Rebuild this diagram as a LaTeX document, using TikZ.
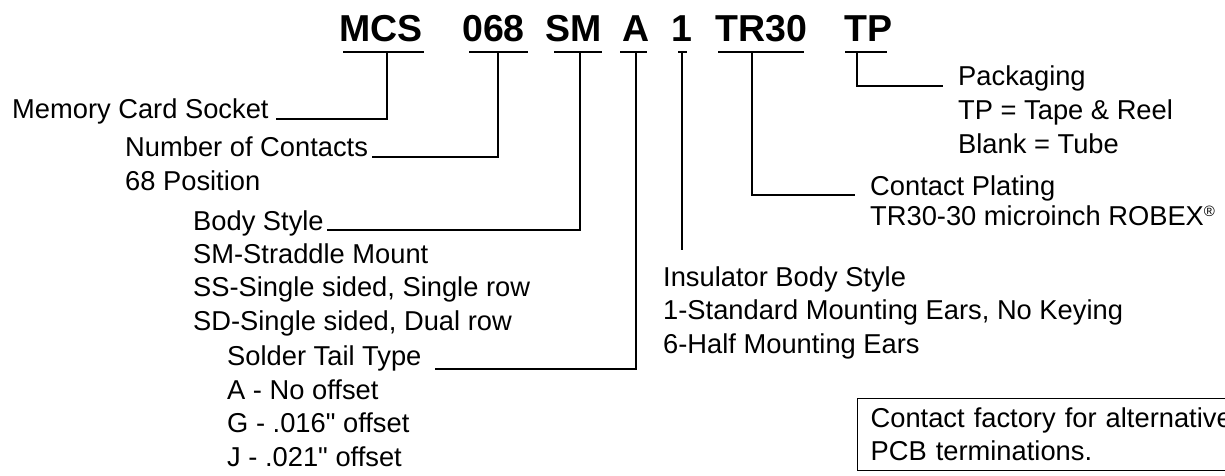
\documentclass[tikz,border=0pt]{standalone}
\usepackage{fontspec}
\setmainfont{Liberation Sans}

\begin{document}
\begin{tikzpicture}[
  x=1pt, y=-1pt, font=\fontsize{27.3}{33.5}\selectfont,
  code/.style={font=\fontsize{37.5}{40}\selectfont\bfseries, anchor=base west, inner sep=0pt},
  lbl/.style={anchor=base west, inner sep=0pt, align=left},
  note/.style={draw, line width=1.2pt, anchor=north west, align=left, text width=370pt, inner xsep=13pt, inner ysep=9pt},
  uline/.style={line width=2pt},
  lead/.style={line width=1.3pt}]
  \useasboundingbox (0,0) rectangle (1225,476);
  % part number
  \node[code] (mcs) at (339,42) {MCS};
  \node[code] (pins) at (462,42) {068};
  \node[code] (sm) at (545,42) {SM};
  \node[code] (tail) at (622,42) {A};
  \node[code] (ins1) at (671,42) {1};
  \node[code] (tr) at (715,42) {TR30};
  \node[code] (tp) at (844,42) {TP};
  \draw[uline] (343,52) -- (424,52);
  \draw[uline] (469,52) -- (528,52);
  \draw[uline] (554,52) -- (602,52);
  \draw[uline] (620,52) -- (647,52);
  \draw[uline] (678,52) -- (687,52);
  \draw[uline] (718,52) -- (804,52);
  \draw[uline] (845,52) -- (887,52);
  \coordinate (tapMCS) at (387,52);
  \coordinate (tapPins) at (498,52);
  \coordinate (tapSM) at (580,52);
  \coordinate (tapTail) at (636,52);
  \coordinate (tapIns) at (682,52);
  \coordinate (endIns) at (682,250);
  \coordinate (tapTR) at (752,52);
  \coordinate (tapTP) at (857,52);
  % left column (multi-line nodes sit on their last baseline)
  \node[lbl] (mem) at (12,119) {Memory Card Socket};
  \node[lbl] (noc) at (125,157) {Number of Contacts};
  \node[lbl] (nocd) at (125,190) {68 Position};
  \node[lbl] (body) at (193,230) {Body Style};
  \node[lbl] (bodyd) at (193,330) {SM-Straddle Mount\\SS-Single sided, Single row\\SD-Single sided, Dual row};
  \node[lbl] (solder) at (227,365) {Solder Tail Type};
  \node[lbl] (solderd) at (227,466) {A - No offset\\G - .016\textquotedbl{} offset\\J - .021\textquotedbl{} offset};
  % right column
  \node[lbl] (ins) at (663,286) {Insulator Body Style};
  \node[lbl] (insd) at (663,353) {1-Standard Mounting Ears, No Keying\\6-Half Mounting Ears};
  \node[lbl] (plat) at (870,195) {Contact Plating};
  \node[lbl] (platd) at (870,225) {TR30-30 microinch ROBEX{\fontsize{15}{15}\selectfont\raisebox{9pt}{®}}};
  \node[lbl] (pack) at (958,86) {Packaging};
  \node[lbl] (packd) at (958,153) {TP = Tape \& Reel\\Blank = Tube};
  \node[note] (fact) at (857,398) {Contact factory for alternative\\PCB terminations.};
  % leaders
  \draw[lead] (tapMCS) |- ([xshift=7pt]mem.base east);
  \draw[lead] (tapPins) |- ([xshift=4pt]noc.base east);
  \draw[lead] (tapSM) |- ([xshift=3pt]body.base east);
  \draw[lead] (tapTail) |- ([shift={(13,4)}]solder.base east);
  \draw[lead] (tapIns) -- (endIns);
  \draw[lead] (tapTR) |- ([xshift=-15pt]plat.base west);
  \draw[lead] (tapTP) |- ([xshift=-15pt]pack.base west);
\end{tikzpicture}
\end{document}
